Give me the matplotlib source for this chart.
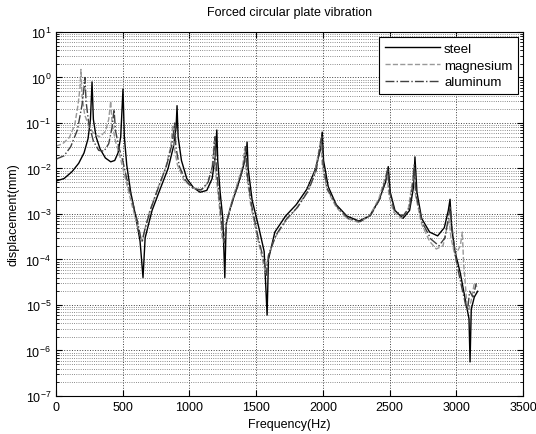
import matplotlib
matplotlib.use("Agg")
import matplotlib.pyplot as plt
import numpy as np

plt.rcParams['font.family'] = ['Liberation Sans', 'DejaVu Sans']
plt.rcParams['mathtext.fontset'] = 'custom'
plt.rcParams['mathtext.rm'] = 'Liberation Sans'

# steel (solid)
steel_f = [0, 60, 120, 170, 210, 240, 258, 270, 280, 300, 330, 370, 410, 440, 465, 485,
           502, 512, 530, 560, 600, 630, 652, 668, 720, 780, 840, 880, 900, 907, 915,
           940, 980, 1030, 1080, 1130, 1170, 1195, 1205, 1212, 1230, 1250, 1265, 1275,
           1310, 1360, 1400, 1425, 1432, 1440, 1470, 1520, 1560, 1582, 1592, 1640,
           1720, 1800, 1880, 1940, 1980, 1995, 2005, 2040, 2100, 2180, 2270, 2350,
           2420, 2470, 2490, 2505, 2540, 2600, 2650, 2680, 2690, 2705, 2740, 2800,
           2860, 2910, 2940, 2953, 2965, 2990, 3030, 3070, 3095, 3103, 3112, 3135, 3160]
steel_d = [5.3e-3, 6e-3, 8.5e-3, 0.013, 0.022, 0.045, 0.12, 0.8, 0.12, 0.05, 0.027,
           0.017, 0.014, 0.015, 0.022, 0.05, 0.56, 0.05, 0.012, 3e-3, 8e-4, 2.5e-4,
           4e-5, 3e-4, 1.2e-3, 3.5e-3, 0.01, 0.03, 0.08, 0.24, 0.05, 0.015, 6e-3,
           3.8e-3, 3e-3, 3.3e-3, 6e-3, 0.02, 0.07, 0.015, 3e-3, 8e-4, 4e-5, 6e-4,
           1.5e-3, 4e-3, 0.01, 0.02, 0.038, 0.01, 2e-3, 5e-4, 1.5e-4, 6e-6, 1e-4,
           4e-4, 9e-4, 1.6e-3, 3.5e-3, 9e-3, 0.025, 0.063, 0.015, 4e-3, 1.6e-3,
           9e-4, 7e-4, 9e-4, 2e-3, 5e-3, 0.011, 3e-3, 1.2e-3, 8e-4, 1.2e-3, 4e-3,
           0.018, 3e-3, 8e-4, 4e-4, 3.3e-4, 5e-4, 1.2e-3, 2.1e-3, 5e-4, 1.5e-4,
           5e-5, 1.2e-5, 5e-6, 5.6e-7, 8e-6, 1.5e-5, 2e-5]

# magnesium (dashed)
mg_f = [0, 50, 100, 140, 165, 180, 187, 195, 215, 250, 290, 330, 370, 395, 410, 420,
        445, 480, 520, 560, 600, 630, 645, 660, 700, 760, 820, 860, 875, 885, 910,
        960, 1020, 1080, 1130, 1170, 1185, 1195, 1220, 1245, 1258, 1275, 1320, 1370,
        1400, 1415, 1425, 1460, 1510, 1555, 1570, 1590, 1640, 1720, 1800, 1880, 1940,
        1975, 1985, 1995, 2030, 2100, 2180, 2270, 2350, 2420, 2465, 2480, 2495, 2530,
        2590, 2640, 2670, 2680, 2695, 2740, 2800, 2850, 2900, 2930, 2945, 2960, 2990,
        3030, 3045, 3055, 3080, 3095, 3110, 3135, 3155]
mg_d = [0.031, 0.035, 0.048, 0.09, 0.25, 0.6, 1.5, 0.4, 0.15, 0.08, 0.055, 0.05,
        0.065, 0.12, 0.3, 0.1, 0.04, 0.018, 6e-3, 2e-3, 7e-4, 3.5e-4, 2.5e-4, 4e-4,
        1.1e-3, 3.5e-3, 0.01, 0.03, 0.09, 0.03, 0.012, 5.5e-3, 3.8e-3, 3.3e-3,
        4.5e-3, 0.01, 0.04, 9e-3, 2e-3, 3e-4, 2.4e-4, 6e-4, 2e-3, 6e-3, 0.012,
        0.03, 9e-3, 1.5e-3, 3e-4, 8e-5, 5e-5, 1.2e-4, 3e-4, 7e-4, 1.3e-3, 3e-3,
        8e-3, 0.03, 0.045, 0.012, 3.5e-3, 1.4e-3, 8e-4, 6.5e-4, 9e-4, 2.2e-3,
        6e-3, 8e-3, 2.5e-3, 1.1e-3, 8e-4, 1.3e-3, 5e-3, 0.01, 2.5e-3, 6e-4,
        2.5e-4, 1.7e-4, 2e-4, 5e-4, 8e-4, 3e-4, 1.2e-4, 2e-4, 4e-4, 8e-5, 1e-5,
        8e-6, 1.2e-5, 3e-5, 2.5e-5]

# aluminum (dash-dot)
al_f = [0, 60, 110, 160, 195, 210, 217, 225, 245, 280, 320, 360, 395, 420, 435, 445,
        470, 500, 530, 570, 610, 635, 648, 665, 710, 770, 830, 870, 890, 898, 925,
        970, 1030, 1090, 1140, 1175, 1192, 1202, 1225, 1250, 1262, 1280, 1330, 1380,
        1410, 1422, 1432, 1465, 1515, 1560, 1575, 1595, 1650, 1730, 1810, 1890, 1950,
        1982, 1992, 2002, 2035, 2110, 2190, 2280, 2360, 2430, 2470, 2487, 2500, 2535,
        2600, 2650, 2675, 2685, 2700, 2745, 2810, 2870, 2915, 2940, 2955, 2968, 3000,
        3040, 3070, 3085, 3100, 3125, 3150]
al_d = [0.016, 0.019, 0.03, 0.07, 0.25, 0.6, 1.0, 0.3, 0.1, 0.04, 0.025, 0.024,
        0.035, 0.08, 0.2, 0.07, 0.03, 0.015, 6e-3, 2e-3, 7e-4, 3e-4, 2.6e-4, 4.5e-4,
        1.3e-3, 4e-3, 0.012, 0.035, 0.1, 0.03, 0.011, 5.5e-3, 3.6e-3, 3.4e-3, 5e-3,
        0.012, 0.05, 0.01, 2e-3, 3.5e-4, 2.3e-4, 7e-4, 2.2e-3, 6e-3, 0.014, 0.03,
        8e-3, 1.6e-3, 3e-4, 9e-5, 4.5e-5, 1.3e-4, 3.5e-4, 8e-4, 1.4e-3, 3.2e-3,
        9e-3, 0.035, 0.05, 0.012, 3.5e-3, 1.4e-3, 8e-4, 6.8e-4, 9.5e-4, 2.2e-3,
        6e-3, 0.01, 3e-3, 1.2e-3, 9e-4, 1.4e-3, 5e-3, 0.012, 2.5e-3, 6.5e-4,
        2.8e-4, 2e-4, 3e-4, 8e-4, 1.5e-3, 5e-4, 9e-5, 2.5e-5, 1e-5, 8e-6, 2e-5,
        1.5e-5, 3e-5]

x_ticks = [0, 500, 1000, 1500, 2000, 2500, 3000, 3500]

fig = plt.figure(figsize=(5.36, 4.35), dpi=100)
ax = fig.add_axes([0.1045, 0.0874, 0.8713, 0.8368])

ax.semilogy(steel_f, steel_d, '-', color='black', lw=1.0, label='steel')
ax.semilogy(mg_f, mg_d, '--', color='0.6', lw=1.0, label='magnesium')
ax.semilogy(al_f, al_d, '-.', color='0.25', lw=1.0, label='aluminum')

ax.set_xlim(0, 3500)
ax.set_ylim(1e-7, 1e1)
ax.set_xticks(x_ticks)
ax.set_yticks([10.0 ** k for k in range(-7, 2)])

ax.grid(True, which='major', linestyle=':', color='0.25', lw=0.7)
ax.grid(True, which='minor', axis='y', linestyle=':', color='0.4', lw=0.6)
ax.tick_params(which='both', direction='in', top=True, right=True, labelsize=9)
ax.tick_params(which='major', length=4)
ax.tick_params(which='minor', length=2)
for s in ax.spines.values():
    s.set_linewidth(0.8)

ax.set_title('Forced circular plate vibration', fontsize=9, pad=12)
ax.set_xlabel('Frequency(Hz)', fontsize=9, labelpad=4)
ax.set_ylabel('displacement(mm)', fontsize=9, labelpad=4)

leg = ax.legend(loc='upper right', fontsize=9.5, handlelength=4.2, fancybox=False,
                framealpha=1, edgecolor='black', borderaxespad=0.4, labelspacing=0.35,
                handletextpad=0.3)
leg.get_frame().set_linewidth(0.8)

fig.savefig('out.png', dpi=100)
